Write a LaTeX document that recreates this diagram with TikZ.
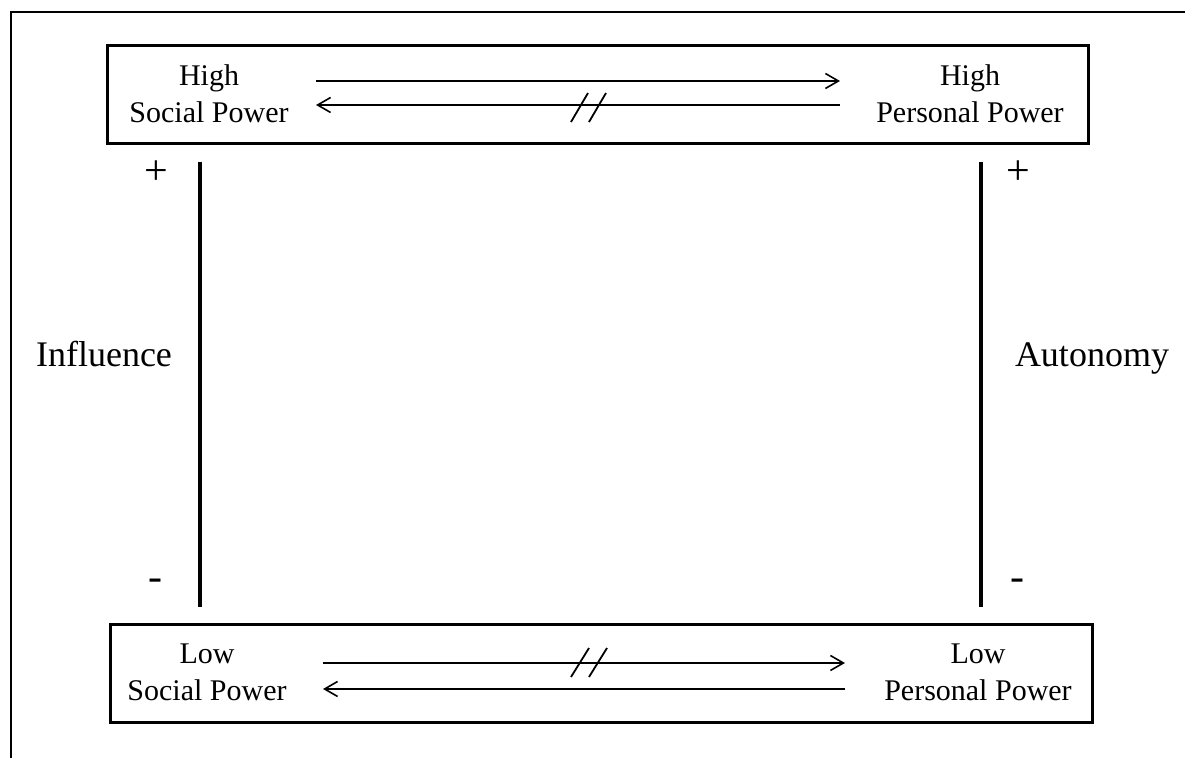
\documentclass[tikz,border=0pt]{standalone}
\usepackage{fontspec}
\setmainfont{Liberation Serif}
\usetikzlibrary{arrows.meta}
\tikzset{
	powerbox/.style={draw,line width=1.5pt,inner sep=0pt,minimum width=490.5pt,minimum height=49pt},
	powertext/.style={align=center,inner sep=0pt,font=\fontsize{15}{18.5}\selectfont},
	flow/.style={line width=0.8pt,-{Straight Barb[length=6.5pt,width=7.5pt,line width=0.8pt]}},
	axisbar/.style={line width=2pt},
	axislabel/.style={inner sep=0pt,anchor=base,font=\fontsize{18}{22}\selectfont},
	signlabel/.style={inner sep=0pt,font=\fontsize{21}{24}\selectfont},
	cutmark/.style={line width=0.9pt}
}
\begin{document}
\begin{tikzpicture}[x=0.5pt,y=-0.5pt]
	\useasboundingbox (0,0) rectangle (1185,758);
	\coordinate (F1) at (11,758);
	\coordinate (F2) at (11,12);
	\coordinate (F3) at (1185,12);
	\draw[line width=1pt] (F1)--(F2)--(F3);
	
	% boxes
	\node[powerbox] (HighBox) at (597.5,95) {};
	\node[powerbox,minimum width=491pt] (LowBox) at (601,674) {};
	\node[powertext] (HS) at (209,94) {High\\Social Power};
	\node[powertext] (HP) at (970,94) {High\\Personal Power};
	\node[powertext] (LS) at (207,672) {Low\\Social Power};
	\node[powertext] (LP) at (978,672) {Low\\Personal Power};
	
	% arrows
	\coordinate (HA1) at (316,81);
	\coordinate (HA2) at (840,81);
	\coordinate (HB1) at (840,105);
	\coordinate (HB2) at (316,105);
	\coordinate (LA1) at (323,663);
	\coordinate (LA2) at (845,663);
	\coordinate (LB1) at (845,689);
	\coordinate (LB2) at (323,689);
	\draw[flow] (HA1)--(HA2);
	\draw[flow] (HB1)--(HB2);
	\draw[flow] (LA1)--(LA2);
	\draw[flow] (LB1)--(LB2);
	\foreach \x in {571,589}{
		\draw[cutmark] (\x,122)--++(17,-29);
		\draw[cutmark] (\x,677)--++(18,-29);
	}
	
	% axes
	\coordinate (IT) at (200,162);
	\coordinate (IB) at (200,607);
	\coordinate (AT) at (981,162);
	\coordinate (AB) at (981,607);
	\draw[axisbar] (IT)--(IB) (AT)--(AB);
	\node[signlabel] (IP) at (156,173) {+};
	\node[signlabel] (IM) at (155,585) {-};
	\node[signlabel] (AP) at (1018,173) {+};
	\node[signlabel] (AM) at (1017,585) {-};
	\node[axislabel] (Infl) at (104,367) {Influence};
	\node[axislabel] (Auto) at (1092,367) {Autonomy};
\end{tikzpicture}
\end{document}
